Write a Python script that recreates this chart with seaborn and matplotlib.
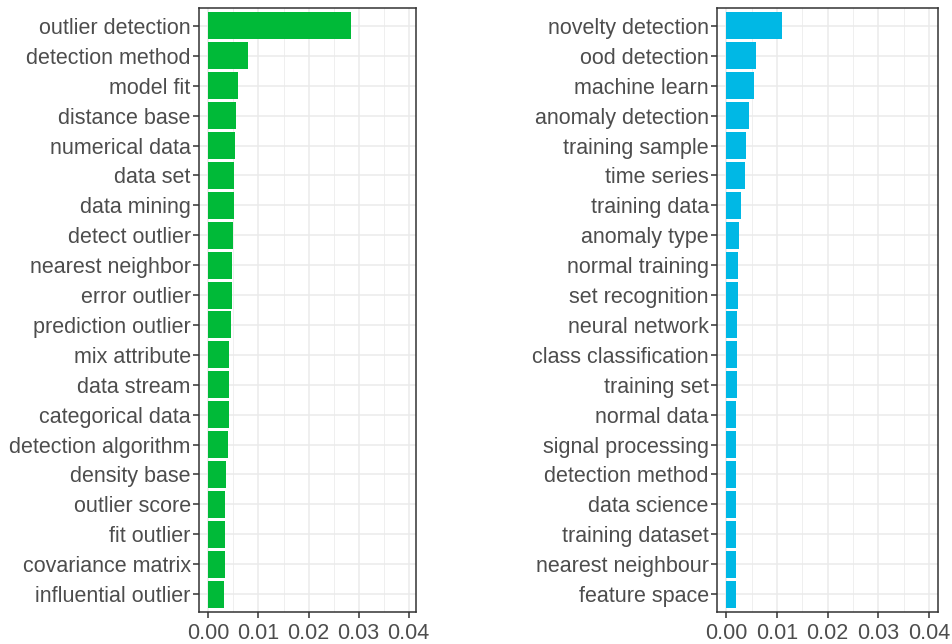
import matplotlib
matplotlib.use("Agg")
import matplotlib.pyplot as plt
import seaborn as sns
import pandas as pd
import numpy as np

left_terms = ["outlier detection", "detection method", "model fit", "distance base",
              "numerical data", "data set", "data mining", "detect outlier",
              "nearest neighbor", "error outlier", "prediction outlier", "mix attribute",
              "data stream", "categorical data", "detection algorithm", "density base",
              "outlier score", "fit outlier", "covariance matrix", "influential outlier"]
left_values = [0.0284, 0.0079, 0.0060, 0.0055, 0.0053, 0.0051, 0.0051, 0.0049,
               0.0047, 0.0047, 0.0045, 0.0041, 0.0041, 0.0041, 0.0039, 0.0035,
               0.0033, 0.0033, 0.0033, 0.0031]

right_terms = ["novelty detection", "ood detection", "machine learn", "anomaly detection",
               "training sample", "time series", "training data", "anomaly type",
               "normal training", "set recognition", "neural network", "class classification",
               "training set", "normal data", "signal processing", "detection method",
               "data science", "training dataset", "nearest neighbour", "feature space"]
right_values = [0.0109, 0.0059, 0.0055, 0.0045, 0.0039, 0.0036, 0.0030, 0.0026,
                0.0024, 0.0024, 0.0022, 0.0022, 0.0022, 0.0020, 0.0020, 0.0020,
                0.0020, 0.0020, 0.0020, 0.0020]

x_ticks = [0.00, 0.01, 0.02, 0.03, 0.04]
x_tick_labels = ["0.00", "0.01", "0.02", "0.03", "0.04"]

sns.set_theme(style="white")
plt.rcParams['font.family'] = ['Liberation Sans', 'DejaVu Sans']

W, H = 953, 644
fig = plt.figure(figsize=(W / 100, H / 100), dpi=100)

def panel(rect_px, terms, values, color, xlim):
    x0, y0, x1, y1 = rect_px
    ax = fig.add_axes([x0 / W, 1 - y1 / H, (x1 - x0) / W, (y1 - y0) / H])
    df = pd.DataFrame({"term": terms, "value": values})
    sns.barplot(data=df, x="value", y="term", orient="h", color=color,
                width=0.9, saturation=1, ax=ax, zorder=3)
    ax.set_xlim(*xlim)
    ax.set_ylim(len(terms) - 0.4, -0.6)
    ax.set_xticks(x_ticks)
    ax.set_xticklabels(x_tick_labels)
    ax.set_xticks([0.005, 0.015, 0.025, 0.035], minor=True)
    ax.set_xlabel("")
    ax.set_ylabel("")
    ax.set_axisbelow(True)
    ax.grid(which="major", axis="both", color="#EBEBEB", linewidth=1.1, zorder=0)
    ax.grid(which="minor", axis="x", color="#EBEBEB", linewidth=0.55, zorder=0)
    for s in ax.spines.values():
        s.set_color("#333333")
        s.set_linewidth(1.1)
    ax.tick_params(axis="both", which="major", length=4, width=1.1, color="#333333",
                   labelsize=15.5, labelcolor="#4D4D4D", pad=2, left=True, bottom=True)
    ax.tick_params(axis="x", which="major", pad=4)
    ax.tick_params(axis="x", which="minor", length=0)
    for p in ax.patches:
        p.set_edgecolor("none")
    return ax

panel((199, 8, 416, 612), left_terms, left_values, "#00BA38", (-0.00188, 0.04146))
panel((717, 8, 938, 612), right_terms, right_values, "#00B8E5", (-0.00183, 0.04175))

fig.savefig("out.png", dpi=100, facecolor="white")
